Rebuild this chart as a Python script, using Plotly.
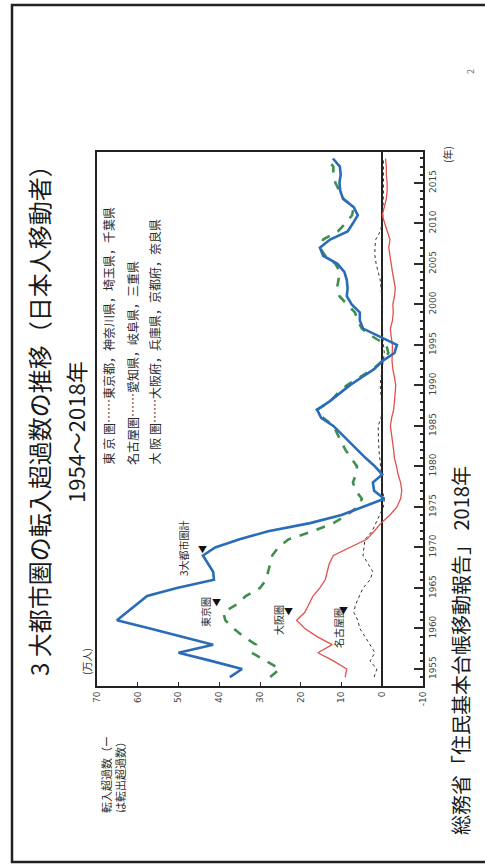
import plotly.graph_objects as go

# Net in-migration of Japanese movers into the three metropolitan areas (10,000 persons)
years = list(range(1954, 2019))

total_3 = [37.4, 34.4, 42.0, 50.0, 41.5, 49.0, 57.0, 65.1, 62.6, 60.2,
           57.7, 50.4, 41.3, 41.5, 42.8, 44.0, 41.0, 35.0, 28.0, 17.7,
           10.0, 4.5, -0.5, 2.0, 2.3, 0.0, 1.8, 4.0, 6.0, 8.0,
           10.0, 12.0, 15.0, 16.0, 13.0, 10.5, 8.0, 5.0, 2.0, 0.0,
           -3.0, -3.6, 0.5, 4.7, 5.5, 5.5, 7.5, 8.7, 8.5, 8.7,
           9.3, 11.0, 14.5, 15.3, 12.8, 8.5, 7.2, 6.0, 7.0, 9.6,
           10.3, 10.5, 10.2, 10.4, 12.1]

tokyo = [27.5, 25.1, 28.5, 32.0, 31.0, 34.0, 36.5, 38.5, 39.0, 35.6,
         33.5, 30.0, 28.5, 28.0, 27.5, 27.0, 25.5, 23.0, 17.0, 12.0,
         8.7, 6.0, 5.0, 6.5, 7.2, 6.5, 6.2, 7.5, 9.0, 10.0,
         11.0, 12.0, 14.5, 16.0, 12.8, 11.0, 8.7, 5.5, 2.3, 0.0,
         -1.5, -1.0, 2.3, 5.0, 6.0, 6.7, 8.5, 10.5, 11.1, 10.8,
         10.4, 11.5, 14.0, 15.3, 14.5, 10.9, 9.0, 7.4, 7.0, 9.5,
         10.5, 11.5, 12.0, 12.0, 13.6]

osaka = [9.1, 8.7, 12.0, 15.8, 12.3, 16.0, 19.0, 21.0, 19.0, 18.0,
         17.0, 15.3, 14.0, 13.5, 13.0, 12.0, 8.0, 3.8, 2.0, 0.3,
         -1.9, -3.6, -4.5, -4.8, -4.5, -3.9, -3.5, -3.0, -2.8, -2.5,
         -2.2, -2.0, -2.3, -2.8, -3.0, -3.2, -3.3, -3.0, -2.6, -2.4,
         -2.4, -2.5, -2.2, -2.0, -2.5, -2.7, -2.6, -3.0, -3.2, -2.8,
         -2.5, -2.2, -1.9, -1.6, -1.9, -1.2, -0.6, 0.0, -0.5, -1.0,
         -1.2, -1.2, -1.0, -1.0, -0.8]

nagoya = [2.0, 1.3, 3.0, 1.8, 3.0, 4.2, 5.5, 6.0, 7.0, 6.5,
          5.5, 4.7, 3.0, 2.3, 3.5, 4.7, 4.5, 4.2, 2.5, 1.5,
          0.5, -0.3, -0.5, 0.0, 0.0, 0.2, 0.5, 0.7, 0.8, 0.9,
          1.0, 1.0, 0.3, 0.0, 0.2, 0.4, 0.5, 0.3, 0.0, -0.3,
          -0.5, -0.3, -0.1, 0.0, 0.0, -0.1, 0.0, 0.1, 0.3, 0.5,
          1.0, 1.5, 1.8, 1.8, 1.6, 0.5, 0.0, -0.2, -0.2, -0.3,
          -0.3, -0.3, -0.3, -0.3, -0.3]

value_ticks = [70, 60, 50, 40, 30, 20, 10, 0, -10]
year_ticks = [1955, 1960, 1965, 1970, 1975, 1980, 1985, 1990, 1995, 2000, 2005, 2010, 2015]

W, H = 485, 867
PL, PR, PT, PB = 97, 423, 152, 686  # plot box in pixels


def px(x):
    return (x - PL) / (PR - PL)


def py(y):
    return (PB - y) / (PB - PT)


JP = "Noto Sans CJK JP"
INK = "#2b2b2b"

fig = go.Figure()
fig.add_trace(go.Scatter(x=nagoya, y=years, mode="lines",
                         line=dict(color="#333333", width=1, dash="dot")))
fig.add_trace(go.Scatter(x=osaka, y=years, mode="lines",
                         line=dict(color="#e2504c", width=1.3)))
fig.add_trace(go.Scatter(x=tokyo, y=years, mode="lines",
                         line=dict(color="#3f8f4f", width=2.6, dash="dash")))
fig.add_trace(go.Scatter(x=total_3, y=years, mode="lines",
                         line=dict(color="#2a6cb8", width=2.6)))

fig.update_xaxes(range=[70, -10], tickvals=value_ticks,
                 ticktext=[str(v) for v in value_ticks],
                 ticks="inside", ticklen=4, tickcolor=INK,
                 tickangle=-90, showgrid=False, zeroline=True,
                 zerolinecolor="#222222", zerolinewidth=1.5,
                 showline=True, linecolor="#222222", linewidth=2, mirror=True,
                 tickfont=dict(family="DejaVu Sans", size=9, color="#444444"))
fig.update_yaxes(range=[1952.9, 2018.8], side="right", tickvals=year_ticks,
                 ticks="inside", ticklen=9, tickwidth=1.5, tickcolor=INK,
                 tickangle=-90, showgrid=False, zeroline=False,
                 showline=True, linecolor="#222222", linewidth=2, mirror=True,
                 minor=dict(dtick=1, ticks="inside", ticklen=3, tickcolor=INK),
                 tickfont=dict(family="DejaVu Sans", size=9, color="#444444"))


def note(text, x, y, size, xa="center", ya="middle", color=INK, angle=-90):
    fig.add_annotation(text=text, x=px(x), y=py(y), xref="paper", yref="paper",
                       showarrow=False, textangle=angle, xanchor=xa, yanchor=ya,
                       font=dict(family=JP, size=size, color=color))


note("3 大都市圏の転入超過数の推移（日本人移動者）", 38, 415, 24, color="#1a1a1a")
note("1954～2018年", 75, 432, 22, color="#1a1a1a")
note("(万人)", 86, 662, 10)
note("(年)", 447, 155, 10)

note("東 京 圏……東京都，神奈川県，埼玉県，千葉県", 108, 467, 12, ya="bottom")
note("名古屋圏……愛知県，岐阜県，三重県", 132, 467, 12, ya="bottom")
note("大 阪 圏……大阪府，兵庫県，京都府，奈良県", 154, 467, 12, ya="bottom")

note("3大都市圏計", 183, 548, 10)
note("東京圏", 205, 612, 10)
note("大阪圏", 278, 620, 10)
note("名古屋圏", 338, 628, 10)
for tx, ty in [(196, 558), (216, 611), (288, 620), (350, 619)]:
    fig.add_annotation(text="▼", x=px(tx), y=py(ty), xref="paper", yref="paper",
                       showarrow=False, font=dict(family=JP, size=9, color="#111111"))

# value-axis title, wrapped over two lines
note("転入超過数（ー<br>は転出超過数）", 113, 775, 11)

note("総務省「住民基本台帳移動報告」 2018年", 460, 651, 20, color="#1a1a1a")
note("2", 470, 72, 9, color="#666666")

# page frame
fig.add_shape(type="rect", xref="paper", yref="paper",
              x0=px(12), x1=px(492), y0=py(862), y1=py(5),
              line=dict(color="#222222", width=2.5))

fig.update_layout(width=W, height=H, showlegend=False,
                  margin=dict(l=PL, r=W - PR, t=PT, b=H - PB),
                  paper_bgcolor="white", plot_bgcolor="white")

fig.write_html("out.html")
